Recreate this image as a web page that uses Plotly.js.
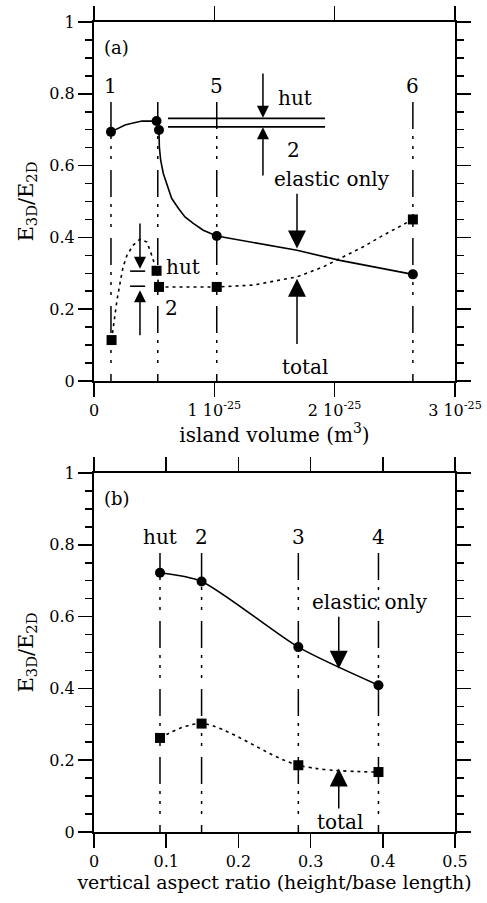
<!DOCTYPE html>
<html>
<head>
<meta charset="utf-8">
<script src="https://cdn.plot.ly/plotly-3.0.1.min.js"></script>
<style>html,body{margin:0;padding:0;background:#fff;}#chart{width:487px;height:903px;}</style>
</head>
<body>
<div id="chart"></div>
<script>
// ---------- Panel (a): island volume, x in units of 1e-25 m^3 ----------
const aElasticMarkX = [0.141, 0.52, 0.54, 1.02, 2.65];
const aElasticMarkY = [0.694, 0.724, 0.699, 0.404, 0.297];
const aTotalMarkX = [0.146, 0.52, 0.54, 1.02, 2.65];
const aTotalMarkY = [0.114, 0.307, 0.262, 0.262, 0.450];
const aElasticCurveX = [0.141,0.199,0.258,0.316,0.399,0.52,0.54,0.543,0.554,0.576,0.604,0.645,0.701,0.756,0.825,0.908,1.02,1.687,2.044,2.65];
const aElasticCurveY = [0.694,0.704,0.713,0.718,0.724,0.724,0.699,0.652,0.615,0.578,0.550,0.509,0.481,0.457,0.439,0.420,0.404,0.364,0.336,0.297];
const aTotalCurveX = [0.146,0.158,0.191,0.216,0.241,0.274,0.324,0.382,0.440,0.482,0.52,0.54,1.02,1.321,1.687,1.906,2.044,2.238,2.404,2.65];
const aTotalCurveY = [0.114,0.147,0.225,0.272,0.317,0.350,0.378,0.395,0.387,0.348,0.307,0.262,0.262,0.267,0.290,0.318,0.341,0.374,0.406,0.450];
const aGuideX = [0.141, 0.53, 1.02, 2.65];
const aGuideLabels = ['1', '', '5', '6'];
const aTickVals = [0, 1, 2, 3];
const aTickText = ['0', '1 10<sup>-25</sup>', '2 10<sup>-25</sup>', '3 10<sup>-25</sup>'];

// ---------- Panel (b): vertical aspect ratio ----------
const bX = [0.0914, 0.149, 0.283, 0.394];
const bElastic = [0.722, 0.698, 0.515, 0.409];
const bTotal = [0.262, 0.302, 0.186, 0.167];
const bGuideLabels = ['hut', '2', '3', '4'];
const bTickVals = [0, 0.1, 0.2, 0.3, 0.4, 0.5];

const yTickVals = [0, 0.2, 0.4, 0.6, 0.8, 1];
const guideTop = 0.777;

const FONT = 'DejaVu Serif';
const guideDash = '27px,7px,3px,7px,3px,7px,3px,11px';

const traces = [
  {x: aElasticCurveX, y: aElasticCurveY, xaxis:'x', yaxis:'y', mode:'lines', line:{color:'#000', width:1.6}, hoverinfo:'skip'},
  {x: aTotalCurveX, y: aTotalCurveY, xaxis:'x', yaxis:'y', mode:'lines', line:{color:'#000', width:1.6, dash:'3px,4px'}, hoverinfo:'skip'},
  {x: aElasticMarkX, y: aElasticMarkY, xaxis:'x', yaxis:'y', mode:'markers', marker:{symbol:'circle', size:10, color:'#000'}},
  {x: aTotalMarkX, y: aTotalMarkY, xaxis:'x', yaxis:'y', mode:'markers', marker:{symbol:'square', size:10, color:'#000'}},
  {x: bX, y: bElastic, xaxis:'x2', yaxis:'y2', mode:'lines+markers', line:{color:'#000', width:1.6, shape:'spline', smoothing:0.7}, marker:{symbol:'circle', size:10, color:'#000'}},
  {x: bX, y: bTotal, xaxis:'x2', yaxis:'y2', mode:'lines+markers', line:{color:'#000', width:1.6, dash:'3px,4px', shape:'spline', smoothing:0.9}, marker:{symbol:'square', size:10, color:'#000'}}
];

const TXT = (sz) => ({family:FONT, size:sz, color:'#000'});

const shapes = [];
const annotations = [];
aGuideX.forEach((gx, i) => {
  shapes.push({type:'line', xref:'x', yref:'y', x0:gx, x1:gx, y0:guideTop, y1:0, line:{color:'#000', width:1.5, dash:guideDash}});
  if (aGuideLabels[i]) annotations.push({xref:'x', yref:'y', x:gx, y:0.823, text:aGuideLabels[i], showarrow:false, font:TXT(20)});
});
bX.forEach((gx, i) => {
  shapes.push({type:'line', xref:'x2', yref:'y2', x0:gx, x1:gx, y0:guideTop, y1:0, line:{color:'#000', width:1.5, dash:guideDash}});
  annotations.push({xref:'x2', yref:'y2', x:gx, y:0.823, text:bGuideLabels[i], showarrow:false, font:TXT(20)});
});
// double horizontal lines (hut / 2 levels) in panel (a)
shapes.push({type:'line', xref:'x', yref:'y', x0:0.615, x1:1.92, y0:0.7315, y1:0.7315, line:{color:'#000', width:1.6}});
shapes.push({type:'line', xref:'x', yref:'y', x0:0.615, x1:1.92, y0:0.708, y1:0.708, line:{color:'#000', width:1.6}});
// small level marks near first square
shapes.push({type:'line', xref:'x', yref:'y', x0:0.30, x1:0.425, y0:0.306, y1:0.306, line:{color:'#000', width:1.6}});
shapes.push({type:'line', xref:'x', yref:'y', x0:0.30, x1:0.425, y0:0.264, y1:0.264, line:{color:'#000', width:1.6}});

function arrow(xr, yr, x, y, ax, ay, size, head) {
  annotations.push({xref:xr, yref:yr, axref:xr, ayref:yr, x:x, y:y, ax:ax, ay:ay, text:'', showarrow:true,
    arrowhead:head, arrowsize:size, arrowwidth:1.5, arrowcolor:'#000', standoff:0, startstandoff:0});
}
// panel (a) arrows
arrow('x','y', 1.404, 0.733, 1.404, 0.861, 1.6, 2);
arrow('x','y', 1.404, 0.707, 1.404, 0.568, 1.6, 2);
arrow('x','y', 1.687, 0.369, 1.687, 0.526, 2.4, 2);
arrow('x','y', 1.687, 0.285, 1.687, 0.099, 2.4, 2);
arrow('x','y', 0.382, 0.313, 0.382, 0.443, 1.6, 2);
arrow('x','y', 0.382, 0.253, 0.382, 0.123, 1.6, 2);
// panel (b) arrows
arrow('x2','y2', 0.339, 0.455, 0.339, 0.604, 2.4, 2);
arrow('x2','y2', 0.339, 0.177, 0.339, 0.061, 2.4, 2);

function label(xr, yr, x, y, t, sz) {
  annotations.push({xref:xr, yref:yr, x:x, y:y, text:t, showarrow:false, font:TXT(sz||20)});
}
label('x','y', 1.67, 0.788, 'hut');
label('x','y', 1.654, 0.643, '2');
label('x','y', 1.978, 0.562, 'elastic only');
label('x','y', 1.753, 0.038, 'total');
label('x','y', 0.742, 0.318, 'hut');
label('x','y', 0.646, 0.202, '2');
label('x','y', 0.191, 0.93, '(a)', 18);
label('x2','y2', 0.382, 0.641, 'elastic only');
label('x2','y2', 0.341, 0.028, 'total');
label('x2','y2', 0.032, 0.93, '(b)', 18);

const axisCommon = {
  showline:true, linecolor:'#000', linewidth:2, mirror:'allticks', ticks:'outside',
  ticklen:14, tickwidth:1.5, tickcolor:'#000', showgrid:false, zeroline:false,
  tickfont:TXT(16)
};
const yCommon = Object.assign({}, axisCommon, {
  range:[0,1], tickmode:'array', tickvals:yTickVals,
  minor:{dtick:0.05, tick0:0, ticklen:7, tickwidth:1.5, tickcolor:'#000', ticks:'outside'},
  title:{text:'E<sub>3D</sub>/E<sub>2D</sub>', font:TXT(21), standoff:10}
});

const layout = {
  width:487, height:903,
  margin:{l:94, r:32, t:22, b:71},
  paper_bgcolor:'#fff', plot_bgcolor:'#fff',
  showlegend:false,
  font:TXT(16),
  xaxis: Object.assign({}, axisCommon, {domain:[0,1], anchor:'y', range:[0,3], tickmode:'array', tickvals:aTickVals, ticktext:aTickText,
    title:{text:'island volume (m<sup>3</sup>)', font:TXT(20), standoff:8}}),
  yaxis: Object.assign({}, yCommon, {domain:[0.5568,1], anchor:'x'}),
  xaxis2: Object.assign({}, axisCommon, {domain:[0,1], anchor:'y2', range:[0,0.5], tickmode:'array', tickvals:bTickVals,
    title:{text:'vertical aspect ratio (height/base length)', font:TXT(19), standoff:5}}),
  yaxis2: Object.assign({}, yCommon, {domain:[0,0.4432], anchor:'x2'}),
  shapes: shapes,
  annotations: annotations
};

Plotly.newPlot('chart', traces, layout, {displayModeBar:false, staticPlot:true});
</script>
</body>
</html>
